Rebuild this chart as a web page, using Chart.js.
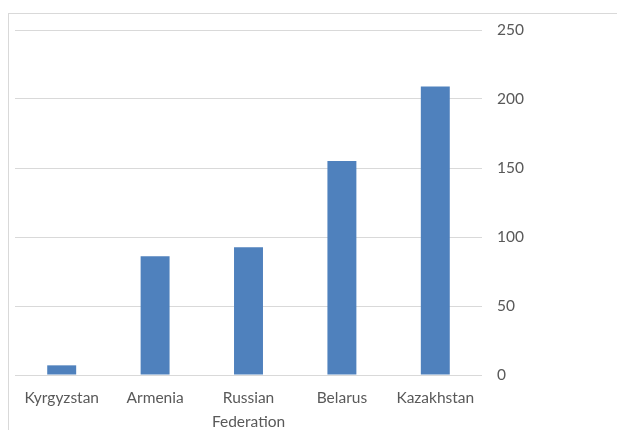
<!DOCTYPE html>
<html lang="en">
<head>
    <meta charset="UTF-8">
    <title>Bar chart</title>
    <script src="https://cdn.jsdelivr.net/npm/chart.js"></script>
    <style>
        html, body { margin: 0; padding: 0; background: #fff; overflow: hidden; }
        #frame {
            position: absolute; left: 8px; top: 13px; width: 640px; height: 450px;
            border-left: 1px solid #d9d9d9; border-top: 1px solid #d9d9d9;
        }
        #wrap { position: absolute; left: 0; top: 0; width: 617px; height: 430px; }
    </style>
</head>
<body>
    <div id="frame"></div>
    <div id="wrap"><canvas id="barChart"></canvas></div>

    <script>
        const countries = ['Kyrgyzstan', 'Armenia', ['Russian', 'Federation'], 'Belarus', 'Kazakhstan'];
        const values = [7, 86, 92.5, 155, 209];
        const yTicks = [0, 50, 100, 150, 200, 250];

        const ctx = document.getElementById('barChart').getContext('2d');

        const chart = new Chart(ctx, {
            type: 'bar',
            data: {
                labels: countries,
                datasets: [{
                    data: values,
                    backgroundColor: '#4f81bd',
                    categoryPercentage: 1,
                    barPercentage: 0.31
                }]
            },
            options: {
                responsive: true,
                maintainAspectRatio: false,
                animation: false,
                layout: { padding: { left: 15, top: 30, right: 0, bottom: 0 } },
                plugins: { legend: { display: false }, tooltip: { enabled: false } },
                scales: {
                    x: {
                        grid: { display: false },
                        border: { display: false },
                        ticks: {
                            color: '#595959',
                            font: { family: 'Lato', size: 15.5, lineHeight: 1.55 },
                            padding: 3,
                            maxRotation: 0
                        },
                        afterFit: (scale) => { scale.height = 55; }
                    },
                    y: {
                        position: 'right',
                        min: yTicks[0],
                        max: yTicks[yTicks.length - 1],
                        afterBuildTicks: (scale) => { scale.ticks = yTicks.map(v => ({ value: v })); },
                        grid: { color: '#d9d9d9', lineWidth: 1, drawTicks: false },
                        border: { display: false },
                        ticks: {
                            color: '#595959',
                            font: { family: 'Lato', size: 15.5 },
                            padding: 15
                        },
                        afterFit: (scale) => { scale.width = 135; }
                    }
                }
            }
        });
    </script>
</body>
</html>
